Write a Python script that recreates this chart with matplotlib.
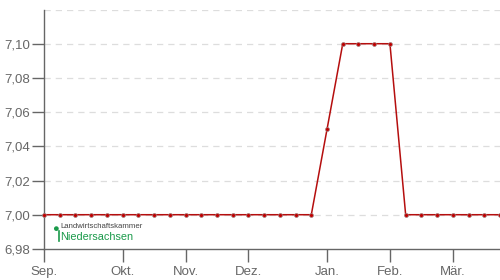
import matplotlib
matplotlib.use('Agg')
import matplotlib.pyplot as plt

# weekly prices, Sep .. Mar
prices = [7.00] * 18 + [7.05] + [7.10] * 4 + [7.00] * 7
month_labels = ['Sep.', 'Okt.', 'Nov.', 'Dez.', 'Jan.', 'Feb.', 'Mär.']
month_weeks = [0, 5, 9, 13, 18, 22, 26]
y_ticks = [6.98, 7.00, 7.02, 7.04, 7.06, 7.08, 7.10]
y_grid = [7.00, 7.02, 7.04, 7.06, 7.08, 7.10, 7.12]

plt.rcParams['font.family'] = ['Liberation Sans', 'DejaVu Sans']

fig = plt.figure(figsize=(5, 2.8), dpi=100)
ax = fig.add_axes([0.088, 0.111, 0.912, 0.855])

weeks = list(range(len(prices)))
for g in y_grid:
    ax.axhline(g, color='#dddddd', lw=0.9, ls=(0, (5, 4)), zorder=0)

ax.plot(weeks, prices, color='#b50e0e', lw=1.1, marker='o', ms=2.8,
        mfc='#c00000', mec='#a08080', mew=0.5, clip_on=False, zorder=3)

ax.set_xlim(0, len(prices) - 1)
ax.set_ylim(6.98, 7.12)
ax.set_yticks(y_ticks)
ax.set_yticklabels([('%.2f' % v).replace('.', ',') for v in y_ticks])
ax.set_xticks(month_weeks)
ax.set_xticklabels(month_labels)

for s in ['top', 'right']:
    ax.spines[s].set_visible(False)
for s in ['left', 'bottom']:
    ax.spines[s].set_color('#666666')
    ax.spines[s].set_linewidth(1.0)
ax.tick_params(axis='y', length=9, width=1, color='#666666', labelcolor='#666666',
               labelsize=9.5, pad=1)
ax.tick_params(axis='x', length=9, width=1, color='#666666', labelcolor='#666666',
               labelsize=9.5, pad=3)

# logo
fig.text(0.104, 0.182, '\u25cf', color='#1a9a4a', fontsize=8, ha='left', va='center')
fig.add_artist(plt.Line2D([0.118, 0.118], [0.139, 0.176], color='#1a9a4a', lw=1.2))
fig.text(0.120, 0.192, 'Landwirtschaftskammer', color='#444444', fontsize=5.6, ha='left', va='center')
fig.text(0.121, 0.155, 'Niedersachsen', color='#1a9a4a', fontsize=7.8, ha='left', va='center')

fig.savefig('out.png', dpi=100)
